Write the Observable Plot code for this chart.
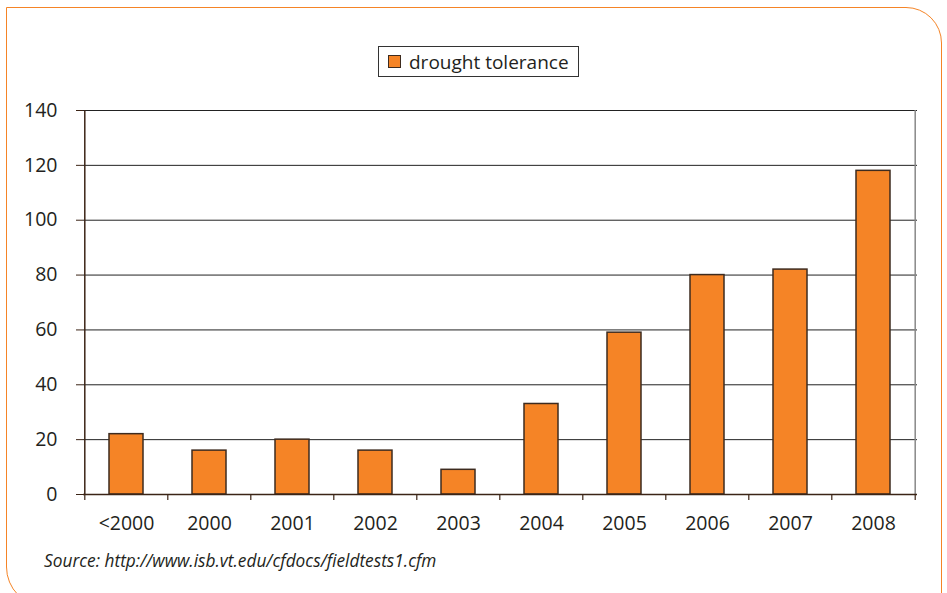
<!DOCTYPE html>
<html>
<head>
<meta charset="utf-8">
<script src="https://cdn.jsdelivr.net/npm/d3@7"></script>
<script src="https://cdn.jsdelivr.net/npm/@observablehq/plot@0.6"></script>
<style>
  html, body { margin: 0; padding: 0; background: #fff; }
  #wrap { position: relative; width: 947px; height: 593px; overflow: hidden; font-family: "Open Sans", sans-serif; color: #231f20; }
  #border { position: absolute; left: 6px; top: 7px; width: 936px; height: 600px; border: 1.5px solid #f58426; border-radius: 0 36px 0 40px; box-sizing: border-box; }
  #chart { position: absolute; left: 0; top: 0; }
  #legend { position: absolute; left: 378px; top: 46px; width: 201px; height: 31px; border: 1px solid #333; box-sizing: border-box; background: #fff; display: flex; align-items: center; font-size: 19px; white-space: nowrap; }
  #legend .sw { width: 11px; height: 11px; background: #f58426; border: 1px solid #3d2b1f; margin-left: 9px; margin-right: 8px; flex: none; }
  #caption { position: absolute; left: 44px; top: 549px; font-size: 17.3px; font-style: italic; color: #231f20; white-space: nowrap; }
</style>
</head>
<body>
<div id="wrap">
  <div id="border"></div>
  <div id="chart"></div>
  <div id="legend"><div class="sw"></div><span id="legendText"></span></div>
  <div id="caption"></div>
</div>
<script>
const categories = ["<2000", "2000", "2001", "2002", "2003", "2004", "2005", "2006", "2007", "2008"];
const values = [22, 16, 20, 16, 9, 33, 59, 80, 82, 118];
const yTicks = [0, 20, 40, 60, 80, 100, 120, 140];
const seriesName = "drought tolerance";
const sourceText = "Source: http://www.isb.vt.edu/cfdocs/fieldtests1.cfm";

const data = categories.map((c, i) => ({cat: c, value: values[i]}));

const W = 947, H = 593;
const mL = 83, mR = 30, mT = 110, mB = 99;
const step = (W - mL - mR) / categories.length;
const brown = "#3b2416";
const barFill = "#f58426";

const chart = Plot.plot({
  width: W,
  height: H,
  marginLeft: mL,
  marginRight: mR,
  marginTop: mT,
  marginBottom: mB,
  style: {fontFamily: "'Open Sans', sans-serif", fontSize: "19.5px", color: "#231f20", background: "transparent"},
  x: {domain: categories, paddingInner: 0.59, paddingOuter: 0.295, axis: null, label: null},
  y: {domain: [0, 140], axis: null, label: null},
  marks: [
    Plot.ruleY(yTicks.filter(d => d > 0), {y: d => d, stroke: "#222", strokeWidth: 1}),
    Plot.ruleX([categories[categories.length - 1]], {x: d => d, dx: step / 2, stroke: "#888", strokeWidth: 1.5}),
    Plot.barY(data, {x: "cat", y: "value", fill: barFill, stroke: "#3d2b1f", strokeWidth: 1.5}),
    Plot.ruleX([categories[0]], {x: d => d, dx: -step / 2, stroke: brown, strokeWidth: 1.5}),
    Plot.ruleY([0], {y: d => d, stroke: brown, strokeWidth: 1.5}),
    Plot.ruleX(categories, {x: d => d, y1: 0, y2: 0, insetTop: 6, dx: -step / 2, stroke: brown, strokeWidth: 1.2}),
    Plot.ruleX([categories[categories.length - 1]], {x: d => d, y1: 0, y2: 0, insetTop: 6, dx: step / 2, stroke: brown, strokeWidth: 1.2}),
    Plot.axisY({ticks: yTicks, tickSize: 7, tickPadding: 19, stroke: brown, fill: "#231f20", fontSize: 19.5, label: null}),
    Plot.axisX({tickSize: 0, tickPadding: 22, fill: "#231f20", fontSize: 19.5, label: null})
  ]
});
document.getElementById("chart").appendChild(chart);
document.getElementById("legendText").textContent = seriesName;
document.getElementById("caption").textContent = sourceText;
</script>
</body>
</html>
